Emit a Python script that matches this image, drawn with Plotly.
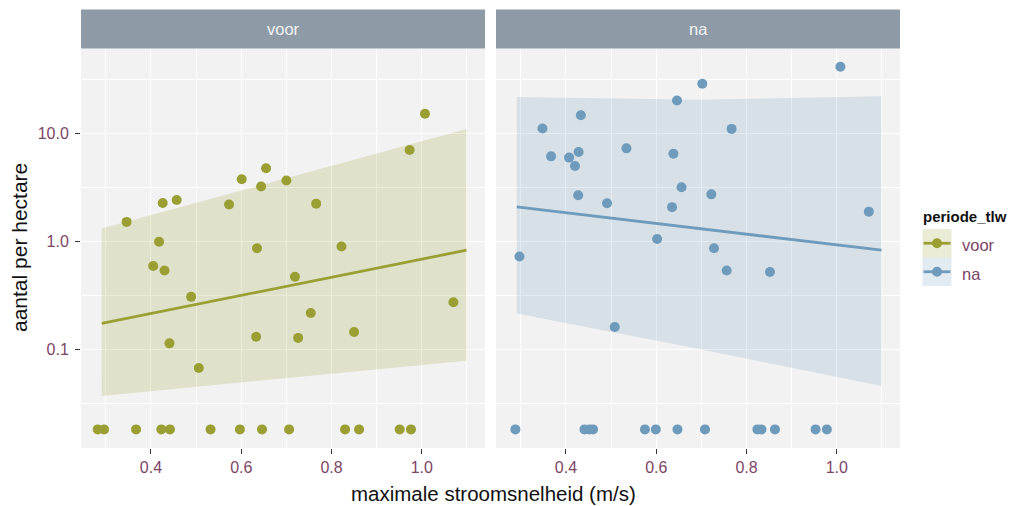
import numpy as np
import plotly.graph_objects as go

# --- data -------------------------------------------------------------
# periode "voor": maximale stroomsnelheid (m/s) en aantal per hectare
snelheid_voor = [1.007, 0.973, 0.346, 0.426, 0.457, 0.418, 0.405, 0.430, 0.573,
                 0.601, 0.644, 0.655, 0.700, 0.635, 0.766, 0.719, 0.822, 0.489,
                 1.070, 0.754, 0.441, 0.633, 0.726, 0.850, 0.506,
                 0.282, 0.296, 0.367, 0.423, 0.442, 0.532, 0.597, 0.646, 0.706,
                 0.830, 0.861, 0.951, 0.976]
aantal_voor = [15.2, 7.0, 1.51, 2.26, 2.41, 0.99, 0.59, 0.535, 2.19,
               3.75, 3.21, 4.74, 3.65, 0.86, 2.23, 0.468, 0.893, 0.305,
               0.272, 0.216, 0.113, 0.130, 0.127, 0.144, 0.0667,
               0, 0, 0, 0, 0, 0, 0, 0, 0,
               0, 0, 0, 0]

# periode "na"
snelheid_na = [1.008, 0.702, 0.646, 0.433, 0.348, 0.767, 0.534, 0.367, 0.407,
               0.428, 0.420, 0.638, 0.656, 0.722, 0.427, 0.491, 0.635, 1.071,
               0.602, 0.728, 0.297, 0.756, 0.852, 0.508,
               0.288, 0.441, 0.452, 0.460, 0.575, 0.599, 0.647, 0.708, 0.824,
               0.833, 0.863, 0.953, 0.978]
aantal_na = [41.5, 28.8, 20.2, 14.7, 11.1, 11.0, 7.26, 6.12, 5.96,
             6.71, 4.99, 6.48, 3.16, 2.72, 2.67, 2.25, 2.07, 1.88,
             1.05, 0.861, 0.721, 0.535, 0.519, 0.160,
             0, 0, 0, 0, 0, 0, 0, 0, 0,
             0, 0, 0, 0]

# zero counts are shown on the floor of the log axis
nul_weergave = 0.018

# fitted trend (straight on the log scale) and its confidence band
fit_x = [0.291, 1.099]
fit_voor = [0.173, 0.826]
fit_na = [2.08, 0.826]

band_x = [0.291, 0.695, 1.099]
band_voor_lo = [0.0367, 0.0534, 0.078]
band_voor_hi = [1.31, 3.8, 11.0]
band_na_lo = [0.214, 0.100, 0.0454]
band_na_hi = [21.7, 20.5, 22.1]

perioden = ["voor", "na"]
x_ticks = [0.4, 0.6, 0.8, 1.0]
x_ticklabels = ["0.4", "0.6", "0.8", "1.0"]
y_ticks = [0.1, 1, 10]
y_ticklabels = ["0.1", "1.0", "10.0"]

# --- styling ----------------------------------------------------------
kleur = {"voor": "#9A9F34", "na": "#6E9BBB"}
band_kleur = {"voor": "rgba(154,160,52,0.20)", "na": "rgba(110,155,187,0.20)"}
panel_bg = "#F2F2F2"
strip_bg = "#8E9BA6"
tick_kleur = "#7D4566"
FONT = "Liberation Sans, Arial, sans-serif"

W, H = 1018, 506
M_L, M_R, M_T, M_B = 81, 118, 10, 58
plot_w = W - M_L - M_R
plot_h = H - M_T - M_B


def px_x(p):
    return (p - M_L) / plot_w


def px_y(p):
    return (H - M_B - p) / plot_h


dom_left = [0, px_x(485)]
dom_right = [px_x(496), 1]
y_top = px_y(48.5)

fig = go.Figure()

sets = {
    "voor": (snelheid_voor, aantal_voor, fit_voor, band_voor_lo, band_voor_hi, "x", "y"),
    "na": (snelheid_na, aantal_na, fit_na, band_na_lo, band_na_hi, "x2", "y2"),
}

for p in perioden:
    sx, ay, fy, blo, bhi, xa, ya = sets[p]
    # confidence band
    fig.add_trace(go.Scatter(
        x=band_x + band_x[::-1], y=bhi + blo[::-1],
        fill="toself", fillcolor=band_kleur[p], line=dict(width=0),
        mode="lines", hoverinfo="skip", showlegend=False, xaxis=xa, yaxis=ya))
    # trend line
    fig.add_trace(go.Scatter(
        x=fit_x, y=fy, mode="lines", line=dict(color=kleur[p], width=2.8),
        showlegend=False, xaxis=xa, yaxis=ya))
    # observations
    y_plot = np.where(np.array(ay) == 0, nul_weergave, np.array(ay))
    fig.add_trace(go.Scatter(
        x=sx, y=y_plot, mode="markers",
        marker=dict(color=kleur[p], size=10, line=dict(width=0)),
        showlegend=False, xaxis=xa, yaxis=ya))

x_common = dict(
    range=[0.245, 1.140], tickvals=x_ticks, ticktext=x_ticklabels,
    showgrid=True, gridcolor="white", gridwidth=1.3, zeroline=False,
    ticks="outside", ticklen=5, tickwidth=1.3, tickcolor="#333333",
    tickfont=dict(family=FONT, size=16, color=tick_kleur),
    minor=dict(tickmode="array", tickvals=[0.3, 0.5, 0.7, 0.9, 1.1],
               showgrid=True, gridcolor="white", gridwidth=0.6, ticks=""),
    showline=False, fixedrange=True,
)
y_common = dict(
    type="log", range=[np.log10(0.0121), np.log10(61.2)],
    domain=[0, y_top],
    tickvals=y_ticks, ticktext=y_ticklabels,
    showgrid=True, gridcolor="white", gridwidth=1.3, zeroline=False,
    tickfont=dict(family=FONT, size=16, color=tick_kleur),
    minor=dict(tickmode="array",
               tickvals=[10 ** -1.5, 10 ** -0.5, 10 ** 0.5, 10 ** 1.5],
               showgrid=True, gridcolor="white", gridwidth=0.6, ticks=""),
    showline=False, fixedrange=True,
)

fig.update_layout(
    width=W, height=H,
    margin=dict(l=M_L, r=M_R, t=M_T, b=M_B),
    paper_bgcolor="white", plot_bgcolor=panel_bg,
    showlegend=False,
    xaxis=dict(domain=dom_left, anchor="y", **x_common),
    xaxis2=dict(domain=dom_right, anchor="y2", **x_common),
    yaxis=dict(anchor="x", ticks="outside", ticklen=5, tickwidth=1.3,
               tickcolor="#333333", ticklabelstandoff=3, **y_common),
    yaxis2=dict(anchor="x2", showticklabels=False, ticks="", matches="y",
                **y_common),
)

# facet strips
strip_y0 = px_y(48.5)
strip_y1 = px_y(9.5)
for dom, label in [(dom_left, "voor"), (dom_right, "na")]:
    fig.add_shape(type="rect", xref="paper", yref="paper",
                  x0=dom[0], x1=dom[1], y0=strip_y0, y1=strip_y1,
                  fillcolor=strip_bg, line=dict(width=0), layer="below")
    fig.add_annotation(x=(dom[0] + dom[1]) / 2, y=(strip_y0 + strip_y1) / 2,
                       xref="paper", yref="paper", text=label, showarrow=False,
                       font=dict(family=FONT, size=16.5, color="#F2F2F2"),
                       xanchor="center", yanchor="middle")

# axis titles
fig.add_annotation(x=px_x(493), y=px_y(493.5), xref="paper", yref="paper",
                   text="maximale stroomsnelheid (m/s)", showarrow=False,
                   font=dict(family=FONT, size=20.5, color="#111111"),
                   xanchor="center", yanchor="middle")
fig.add_annotation(x=px_x(19), y=px_y(248), xref="paper", yref="paper",
                   text="aantal per hectare", showarrow=False, textangle=-90,
                   font=dict(family=FONT, size=21, color="#111111"),
                   xanchor="center", yanchor="middle")

# legend
fig.add_annotation(x=px_x(921), y=px_y(216), xref="paper", yref="paper",
                   text="<b>periode_tlw</b>", showarrow=False,
                   font=dict(family=FONT, size=15, color="#111111"),
                   xanchor="left", yanchor="middle")
key_top = 229
key_h = 28.5
for i, p in enumerate(perioden):
    t = key_top + i * key_h
    b = t + key_h
    cy = (t + b) / 2
    fig.add_shape(type="rect", xref="paper", yref="paper",
                  x0=px_x(922.5), x1=px_x(951.5), y0=px_y(b), y1=px_y(t),
                  fillcolor=band_kleur[p], line=dict(width=0))
    fig.add_shape(type="line", xref="paper", yref="paper",
                  x0=px_x(923.5), x1=px_x(950.5), y0=px_y(cy), y1=px_y(cy),
                  line=dict(color=kleur[p], width=2.8))
    fig.add_shape(type="circle", xref="paper", yref="paper",
                  x0=px_x(932), x1=px_x(942), y0=px_y(cy + 5), y1=px_y(cy - 5),
                  fillcolor=kleur[p], line=dict(width=0))
    fig.add_annotation(x=px_x(960), y=px_y(cy + 2), xref="paper", yref="paper",
                       text=p, showarrow=False,
                       font=dict(family=FONT, size=16.5, color=tick_kleur),
                       xanchor="left", yanchor="middle")

fig.write_html("out.html")
